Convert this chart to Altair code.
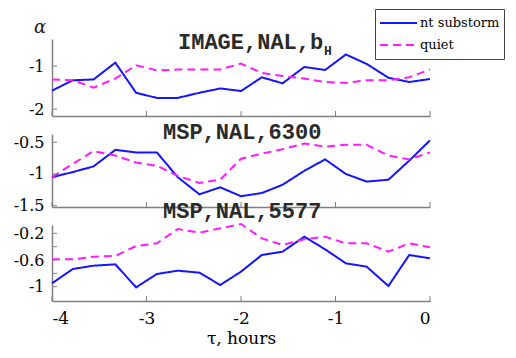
import altair as alt
import pandas as pd

# ---- data ----
tau = [-4.0, -3.78, -3.56, -3.33, -3.11, -2.89, -2.67, -2.44, -2.22, -2.0,
       -1.78, -1.56, -1.33, -1.11, -0.89, -0.67, -0.44, -0.22, 0.0]
series_names = ["nt substorm", "quiet"]

p1_sub = [-1.57, -1.33, -1.31, -0.92, -1.62, -1.74, -1.74, -1.62, -1.52, -1.58,
          -1.26, -1.40, -1.02, -1.09, -0.73, -0.95, -1.27, -1.37, -1.30]
p1_quiet = [-1.31, -1.33, -1.50, -1.29, -0.98, -1.10, -1.08, -1.08, -1.08, -0.94,
            -1.16, -1.23, -1.29, -1.37, -1.39, -1.33, -1.33, -1.26, -1.08]

p2_sub = [-1.05, -0.97, -0.88, -0.62, -0.66, -0.66, -1.05, -1.32, -1.21, -1.35,
          -1.30, -1.17, -0.95, -0.77, -1.00, -1.12, -1.09, -0.79, -0.47]
p2_quiet = [-1.05, -0.84, -0.64, -0.71, -0.82, -0.87, -1.03, -1.14, -1.09, -0.76,
            -0.68, -0.61, -0.52, -0.57, -0.54, -0.54, -0.71, -0.77, -0.66]

p3_sub = [-0.95, -0.735, -0.685, -0.665, -1.01, -0.81, -0.76, -0.79, -0.975, -0.775,
          -0.525, -0.475, -0.25, -0.44, -0.65, -0.70, -0.99, -0.525, -0.575]
p3_quiet = [-0.59, -0.59, -0.55, -0.54, -0.39, -0.35, -0.135, -0.19, -0.125, -0.06,
            -0.275, -0.375, -0.29, -0.25, -0.35, -0.35, -0.475, -0.35, -0.41]

x_ticks = [-4, -3, -2, -1, 0]
p1_labels = [-1, -2]
p2_labels = [-0.5, -1, -1.5]
p3_labels = [-0.2, -0.6, -1]
p3_ticks = [-0.2, -0.4, -0.6, -0.8, -1]

titles = ["IMAGE,NAL,b", "MSP,NAL,6300", "MSP,NAL,5577"]
subscript = "H"

W = 378
AX = "#808080"
SERIF = "DejaVu Serif"
MONO = "Liberation Mono"


def long_df(sub, quiet):
    return pd.DataFrame({
        "tau": tau * 2,
        "alpha": sub + quiet,
        "series": [series_names[0]] * len(tau) + [series_names[1]] * len(tau),
    })


legend = alt.Legend(
    title=None, orient="none", legendX=323, legendY=-30,
    symbolType="stroke", symbolSize=1369, symbolStrokeWidth=2,
    labelFont=SERIF, labelFontSize=13, labelColor="black", labelOffset=2,
    labelLimit=300, strokeColor="#444444", fillColor="white", padding=4,
    clipHeight=20, rowPadding=2, cornerRadius=0,
)


def panel(sub, quiet, domain, h, label_vals, tick_vals, title, title_dx, title_dy,
          bottom=False, first=False):
    df = long_df(sub, quiet)
    xaxis = alt.Axis(
        values=x_ticks, ticks=False, grid=False, domainColor=AX, domainWidth=1.5,
        labels=bottom, labelFont=SERIF, labelFontSize=17, labelColor="black",
        labelPadding=9, labelExpr="'' + datum.value",
        title="τ, hours" if bottom else None,
        titleFont=SERIF, titleFontSize=17, titleFontWeight="normal",
        titleColor="black", titlePadding=4,
    )
    yaxis = alt.Axis(
        values=label_vals, ticks=False, grid=False, domainColor=AX, domainWidth=1.5,
        labelFont=SERIF, labelFontSize=16, labelColor="black", labelPadding=8,
        labelExpr="'' + datum.value", title=None,
    )
    xsc = alt.Scale(domain=[-4, 0], nice=False, zero=False)
    ysc = alt.Scale(domain=domain, nice=False, zero=False)
    x = alt.X("tau:Q", scale=xsc, axis=xaxis)
    y = alt.Y("alpha:Q", scale=ysc, axis=yaxis)
    lines = alt.Chart(df).mark_line(strokeWidth=2).encode(
        x=x, y=y,
        color=alt.Color("series:N", scale=alt.Scale(domain=series_names, range=["#1414ff", "#ff1aff"]),
                        legend=legend),
        strokeDash=alt.StrokeDash("series:N", scale=alt.Scale(domain=series_names, range=[[1, 0], [8, 5]]),
                                  legend=legend),
    )
    yt = alt.Chart(pd.DataFrame({"alpha": tick_vals})).mark_rule(color=AX, strokeWidth=1).encode(
        y=alt.Y("alpha:Q", scale=ysc, axis=yaxis), x=alt.value(0), x2=alt.value(5))
    xt = alt.Chart(pd.DataFrame({"tau": x_ticks})).mark_rule(color=AX, strokeWidth=1).encode(
        x=alt.X("tau:Q", scale=xsc, axis=xaxis), y=alt.value(h), y2=alt.value(h - 5))
    ttl = alt.Chart(pd.DataFrame({"t": [title]})).mark_text(
        font=MONO, fontSize=22, fontWeight="bold", align="left", baseline="alphabetic",
        color="#2a2a2a").encode(text="t:N", x=alt.value(title_dx), y=alt.value(title_dy))
    layers = [lines, yt, xt, ttl]
    if first:
        sub_t = alt.Chart(pd.DataFrame({"t": [subscript]})).mark_text(
            font=MONO, fontSize=13, fontWeight="bold", align="left", baseline="alphabetic",
            color="#2a2a2a").encode(text="t:N", x=alt.value(title_dx + 146), y=alt.value(title_dy + 6))
        alpha_t = alt.Chart(pd.DataFrame({"t": ["α"]})).mark_text(
            font=SERIF, fontSize=18, fontStyle="italic", align="center", baseline="middle",
            color="#222222").encode(text="t:N", x=alt.value(-12), y=alt.value(-11))
        layers += [sub_t, alpha_t]
    return alt.layer(*layers).properties(width=W, height=h)


p1 = panel(p1_sub, p1_quiet, [-2.16, -0.37], 77, p1_labels, p1_labels, titles[0], 126, 10, first=True)
p2 = panel(p2_sub, p2_quiet, [-1.52, -0.37], 73, p2_labels, p2_labels, titles[1], 111, 5)
p3 = panel(p3_sub, p3_quiet, [-1.215, -0.075], 76, p3_labels, p3_ticks, titles[2], 111, -7, bottom=True)

chart = alt.vconcat(p1, p2, p3, spacing=18, bounds="flush").properties(
    padding={"left": 5, "top": 0, "right": 0, "bottom": 0}
).configure_view(stroke=None)

chart.save("out.html", embed_options={"renderer": "svg", "actions": False})
